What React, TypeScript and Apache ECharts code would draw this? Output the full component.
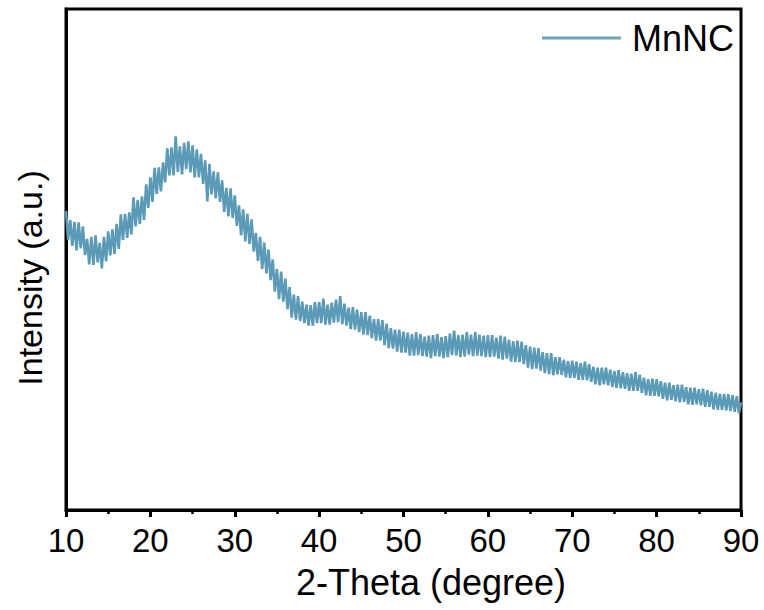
import React, { useEffect, useRef } from "react";
import * as echarts from "echarts";

// 2-Theta scan: starts at 10°, step 0.25°
const thetaStart = 10;
const thetaStep = 0.25;

// Intensity (a.u.) (one row per degree, 4 points each)
const intensity: number[] = [
  597, 539, 579, 527, // 10
  575, 518, 574, 522, // 11
  566, 509, 541, 490, // 12
  545, 489, 548, 494, // 13
  533, 482, 545, 496, // 14
  556, 508, 560, 511, // 15
  571, 521, 590, 539, // 16
  591, 543, 594, 550, // 17
  624, 566, 619, 571, // 18
  626, 579, 650, 603, // 19
  664, 615, 683, 631, // 20
  684, 636, 694, 654, // 21
  722, 668, 724, 668, // 22
  746, 675, 726, 670, // 23
  733, 681, 736, 674, // 24
  728, 664, 720, 664, // 25
  711, 651, 698, 616, // 26
  691, 630, 676, 622, // 27
  674, 615, 658, 595, // 28
  643, 586, 642, 583, // 29
  628, 567, 608, 548, // 30
  600, 536, 591, 531, // 31
  580, 516, 553, 497, // 32
  545, 481, 534, 472, // 33
  520, 459, 500, 436, // 34
  481, 421, 476, 416, // 35
  462, 401, 445, 384, // 36
  430, 380, 427, 377, // 37
  416, 373, 410, 368, // 38
  409, 368, 415, 373, // 39
  415, 373, 422, 370, // 40
  410, 370, 414, 374, // 41
  420, 375, 427, 371, // 42
  412, 368, 404, 361, // 43
  405, 360, 400, 355, // 44
  395, 350, 395, 349, // 45
  388, 343, 381, 338, // 46
  381, 338, 379, 329, // 47
  372, 323, 363, 322, // 48
  360, 316, 360, 314, // 49
  356, 314, 354, 308, // 50
  351, 308, 355, 309, // 51
  351, 307, 346, 306, // 52
  348, 303, 349, 307, // 53
  351, 306, 345, 303, // 54
  347, 305, 352, 309, // 55
  358, 308, 349, 305, // 56
  350, 306, 355, 310, // 57
  350, 307, 355, 308, // 58
  350, 307, 348, 305, // 59
  349, 305, 349, 306, // 60
  344, 302, 348, 300, // 61
  346, 302, 340, 296, // 62
  337, 295, 338, 295, // 63
  336, 291, 329, 284, // 64
  326, 281, 324, 282, // 65
  323, 278, 315, 273, // 66
  313, 271, 313, 269, // 67
  305, 271, 305, 270, // 68
  300, 265, 297, 264, // 69
  298, 264, 296, 260, // 70
  293, 260, 296, 259, // 71
  291, 256, 286, 251, // 72
  284, 249, 284, 251, // 73
  284, 249, 280, 246, // 74
  277, 244, 279, 243, // 75
  275, 242, 273, 238, // 76
  272, 238, 275, 238, // 77
  270, 234, 264, 229, // 78
  261, 228, 262, 228, // 79
  261, 227, 257, 222, // 80
  254, 219, 254, 220, // 81
  249, 217, 250, 215, // 82
  250, 216, 245, 211, // 83
  244, 210, 244, 211, // 84
  241, 209, 242, 206, // 85
  239, 206, 236, 201, // 86
  234, 200, 232, 200, // 87
  231, 199, 231, 198, // 88
  229, 196, 227, 193, // 89
  215, // 90
];

const xTicks = [10, 20, 30, 40, 50, 60, 70, 80, 90];
const seriesName = "MnNC";
const xTitle = "2-Theta (degree)";
const yTitle = "Intensity (a.u.)";

const FONT = "'Liberation Sans', Arial, Helvetica, sans-serif";
const LINE_COLOR = "#5b9bb8";

export default function App() {
  const ref = useRef<HTMLDivElement>(null);

  useEffect(() => {
    document.body.style.margin = "0";
    if (!ref.current) return;
    const chart = echarts.init(ref.current, null, { renderer: "svg" });
    const data = intensity.map((v, i) => [thetaStart + i * thetaStep, v]);

    chart.setOption({
      animation: false,
      backgroundColor: "#ffffff",
      grid: {
        left: 66,
        right: 23,
        top: 9,
        bottom: 100,
        show: true,
        borderColor: "#000",
        borderWidth: 3,
        backgroundColor: "transparent",
      },
      legend: {
        show: true,
        data: [seriesName],
        right: 30,
        top: 20,
        padding: 0,
        icon: "rect",
        itemWidth: 79,
        itemHeight: 3,
        itemStyle: { color: "#6fa3bd" },
        textStyle: {
          fontFamily: FONT,
          fontSize: 36,
          color: "#000",
          padding: [0, 0, 0, 6],
        },
      },
      xAxis: {
        type: "value",
        min: xTicks[0],
        max: xTicks[xTicks.length - 1],
        interval: 10,
        axisLine: { show: true, lineStyle: { color: "#000", width: 3 } },
        axisTick: {
          show: true,
          inside: false,
          length: 7,
          lineStyle: { color: "#000", width: 3 },
        },
        minorTick: {
          show: true,
          splitNumber: 2,
          length: 4,
          lineStyle: { color: "#000", width: 2.5 },
        },
        splitLine: { show: false },
        axisLabel: {
          color: "#000",
          fontFamily: FONT,
          fontSize: 33,
          margin: 14,
          showMinLabel: true,
          showMaxLabel: true,
          hideOverlap: false,
        },
      },
      yAxis: {
        type: "value",
        min: 0,
        max: 1000,
        axisLine: { show: true, lineStyle: { color: "#000", width: 3 } },
        axisTick: { show: false },
        axisLabel: { show: false },
        splitLine: { show: false },
      },
      series: [
        {
          name: seriesName,
          type: "line",
          data,
          symbol: "none",
          showSymbol: false,
          lineStyle: { color: LINE_COLOR, width: 2.6 },
          itemStyle: { color: LINE_COLOR },
        },
      ],
      graphic: [
        {
          type: "text",
          x: 431,
          y: 582,
          style: {
            text: xTitle,
            font: `36px ${FONT}`,
            fill: "#000",
            textAlign: "center",
            textVerticalAlign: "middle",
          },
        },
        {
          type: "text",
          x: 30,
          y: 278,
          rotation: Math.PI / 2,
          style: {
            text: yTitle,
            font: `34px ${FONT}`,
            fill: "#000",
            textAlign: "center",
            textVerticalAlign: "middle",
          },
        },
      ],
    });

    return () => chart.dispose();
  }, []);

  return <div ref={ref} style={{ width: 764, height: 610 }} />;
}
